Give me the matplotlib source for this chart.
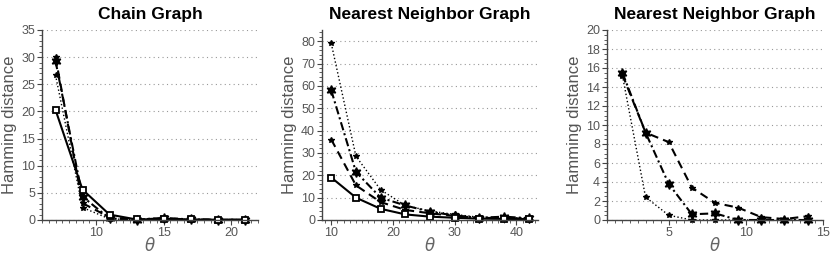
import matplotlib
matplotlib.use("Agg")
import matplotlib.pyplot as plt
from matplotlib.ticker import MultipleLocator

plt.rcParams['font.family'] = ['Liberation Sans', 'DejaVu Sans']

# ---- data ----
chain_theta = [7, 9, 11, 13, 15, 17, 19, 21]
chain_solid = [20.3, 5.6, 1.0, 0.1, 0.2, 0.1, 0.05, 0.05]
chain_dashed = [30.0, 3.1, 0.5, 0.1, 0.3, 0.1, 0.05, 0.05]
chain_dashdot = [29.3, 4.3, 0.3, 0.05, 0.4, 0.1, 0.05, 0.05]
chain_dotted = [26.7, 2.3, 0.2, 0.05, 0.3, 0.1, 0.05, 0.05]

nn_theta = [10, 14, 18, 22, 26, 30, 34, 38, 42]
nn_solid = [19.0, 10.0, 5.0, 2.5, 1.5, 1.0, 0.6, 0.5, 0.4]
nn_dashed = [36.0, 15.5, 8.0, 4.5, 3.0, 1.8, 1.0, 0.8, 0.6]
nn_dashdot = [58.0, 21.5, 10.0, 6.5, 3.7, 2.0, 1.0, 1.5, 0.8]
nn_dotted = [79.0, 28.5, 13.5, 6.5, 4.0, 2.5, 1.2, 1.0, 0.8]

nn2_theta = [2, 3.5, 5, 6.5, 8, 9.5, 11, 12.5, 14]
nn2_dotted = [15.2, 2.4, 0.5, 0.0, 0.0, 0.0, 0.0, 0.0, 0.0]
nn2_dashed = [15.3, 9.2, 8.2, 3.4, 1.8, 1.3, 0.3, 0.1, 0.4]
nn2_dashdot = [15.5, 9.2, 3.8, 0.6, 0.7, 0.0, 0.0, 0.0, 0.0]

titles = ["Chain Graph", "Nearest Neighbor Graph", "Nearest Neighbor Graph"]

fig = plt.figure(figsize=(8.3, 2.54), dpi=100)
lefts = [42/830, 322/830, 607/830]
bottom = 1 - 220/254
height = (220 - 30) / 254
width = 216/830
axes = [fig.add_axes([l, bottom, width, height]) for l in lefts]

star6 = (6, 1, 0)
s_solid = dict(color='black', ls='-', lw=1.5, marker='s', ms=4, mfc='white', mew=1.3)
s_dashed = dict(color='black', ls=(0, (4, 2.5)), lw=1.5, marker='*', ms=4)
s_dashdot = dict(color='black', ls=(0, (4, 1.5, 1, 1.5)), lw=1.5, marker=star6, ms=7)
s_dotted = dict(color='black', ls=':', lw=1.0, marker='*', ms=4)

ax = axes[0]
ax.plot(chain_theta, chain_dotted, **s_dotted)
ax.plot(chain_theta, chain_dashed, **s_dashed)
ax.plot(chain_theta, chain_dashdot, **s_dashdot)
ax.plot(chain_theta, chain_solid, **s_solid)
ax.set_xlim(6, 22)
ax.set_ylim(0, 35)
ax.xaxis.set_major_locator(MultipleLocator(5))
ax.xaxis.set_minor_locator(MultipleLocator(0.5))
ax.yaxis.set_major_locator(MultipleLocator(5))
ax.yaxis.set_minor_locator(MultipleLocator(1))

ax = axes[1]
ax.plot(nn_theta, nn_dotted, **s_dotted)
ax.plot(nn_theta, nn_dashed, **s_dashed)
ax.plot(nn_theta, nn_dashdot, **s_dashdot)
ax.plot(nn_theta, nn_solid, **s_solid)
ax.set_xlim(8.5, 43.5)
ax.set_ylim(0, 85)
ax.xaxis.set_major_locator(MultipleLocator(10))
ax.xaxis.set_minor_locator(MultipleLocator(1))
ax.yaxis.set_major_locator(MultipleLocator(10))
ax.yaxis.set_minor_locator(MultipleLocator(2))

ax = axes[2]
ax.plot(nn2_theta, nn2_dotted, **s_dotted)
ax.plot(nn2_theta, nn2_dashed, **s_dashed)
ax.plot(nn2_theta, nn2_dashdot, **s_dashdot)
ax.set_xlim(1, 15)
ax.set_ylim(0, 20)
ax.xaxis.set_major_locator(MultipleLocator(5))
ax.xaxis.set_minor_locator(MultipleLocator(0.5))
ax.yaxis.set_major_locator(MultipleLocator(2))
ax.yaxis.set_minor_locator(MultipleLocator(0.5))

for ax, t in zip(axes, titles):
    ax.set_title(t, fontsize=12.5, fontweight='bold', pad=8)
    ax.set_ylabel("Hamming distance", fontsize=12, color='#555555', labelpad=3)
    ax.set_xlabel(r"$\theta$", fontsize=12, color='#666666', labelpad=-2)
    ax.spines['top'].set_visible(False)
    ax.spines['right'].set_visible(False)
    for sp in ('left', 'bottom'):
        ax.spines[sp].set_color('#444444')
        ax.spines[sp].set_linewidth(1.0)
    ax.tick_params(which='major', direction='out', length=3.5, width=0.8,
                   colors='#444444', labelcolor='#555555', labelsize=9, pad=1.5)
    ax.tick_params(which='minor', direction='out', length=2, width=0.6, colors='#444444')
    ax.grid(axis='y', which='major', ls=(0, (1, 3)), color='#999999', lw=0.8)
    ax.set_axisbelow(True)
    for ln in ax.lines:
        ln.set_clip_on(False)

fig.savefig("out.png", dpi=100)
